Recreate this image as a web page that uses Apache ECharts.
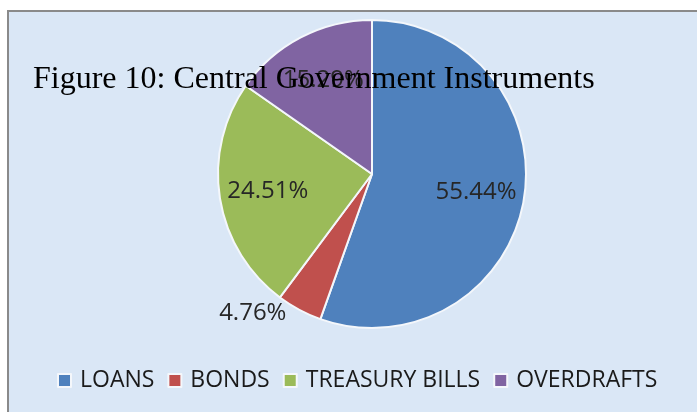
<!DOCTYPE html>
<html>
<head>
<meta charset="utf-8">
<script src="https://cdn.jsdelivr.net/npm/echarts@6/dist/echarts.min.js"></script>
<style>
  html, body { margin: 0; padding: 0; background: #fff; }
  #pie { width: 697px; height: 412px; }
</style>
</head>
<body>
<div id="pie"></div>
<script>
var categories = ['LOANS', 'BONDS', 'TREASURY BILLS', 'OVERDRAFTS']
var shares = [55.44, 4.76, 24.51, 15.29]
var colors = ['#4f81bd', '#c0504d', '#9bbb59', '#8064a2']

var pieCenter = [372, 174]
var myChart = echarts.init(document.getElementById('pie'))

var data = []
for (var i = 0; i < categories.length; i++) {
  var item = { name: categories[i], value: shares[i], itemStyle: { color: colors[i] } }
  if (i === 1) {
    // the small slice gets its label outside, like in the picture
    item.label = { position: 'outside' }
    item.labelLine = { show: false, length: 4, length2: 6 }
  }
  data.push(item)
}

myChart.setOption({
  backgroundColor: '#fff',
  animation: false,
  graphic: [{
    type: 'rect',
    z: -10,
    shape: { x: 8, y: 11, width: 720, height: 430 },
    style: { fill: '#dae7f6', stroke: '#8a8a8a', lineWidth: 2 }
  }],
  title: {
    text: 'Figure 10: Central Government Instruments',
    left: 28,
    top: 59,
    z: 10,
    textStyle: {
      fontFamily: '"Liberation Serif", "Times New Roman", serif',
      fontWeight: 'normal',
      fontSize: 32,
      color: '#000'
    }
  },
  legend: {
    bottom: 15,
    left: 52,
    icon: 'rect',
    itemWidth: 13,
    itemHeight: 13,
    itemGap: 13,
    data: categories,
    textStyle: {
      fontFamily: '"Open Sans", sans-serif',
      fontSize: 23,
      color: '#1a1a1a',
      padding: [0, 0, 0, 4]
    }
  },
  series: [{
    type: 'pie',
    center: pieCenter,
    radius: [0, 154],
    startAngle: 90,
    clockwise: true,
    avoidLabelOverlap: false,
    itemStyle: { borderColor: '#f4f7fb', borderWidth: 2 },
    label: {
      show: true,
      position: 'inside',
      formatter: function (p) { return p.value.toFixed(2) + '%' },
      fontFamily: '"Open Sans", sans-serif',
      fontSize: 24,
      color: '#262626'
    },
    labelLayout: function (params) {
      if (params.dataIndex === 1) return {}
      var r = params.labelRect
      var lx = r.x + r.width / 2
      var ly = r.y + r.height / 2
      var k = 1.32
      return {
        x: pieCenter[0] + (lx - pieCenter[0]) * k,
        y: pieCenter[1] + (ly - pieCenter[1]) * k,
        align: 'center',
        verticalAlign: 'middle'
      }
    },
    data: data
  }]
})
</script>
</body>
</html>
